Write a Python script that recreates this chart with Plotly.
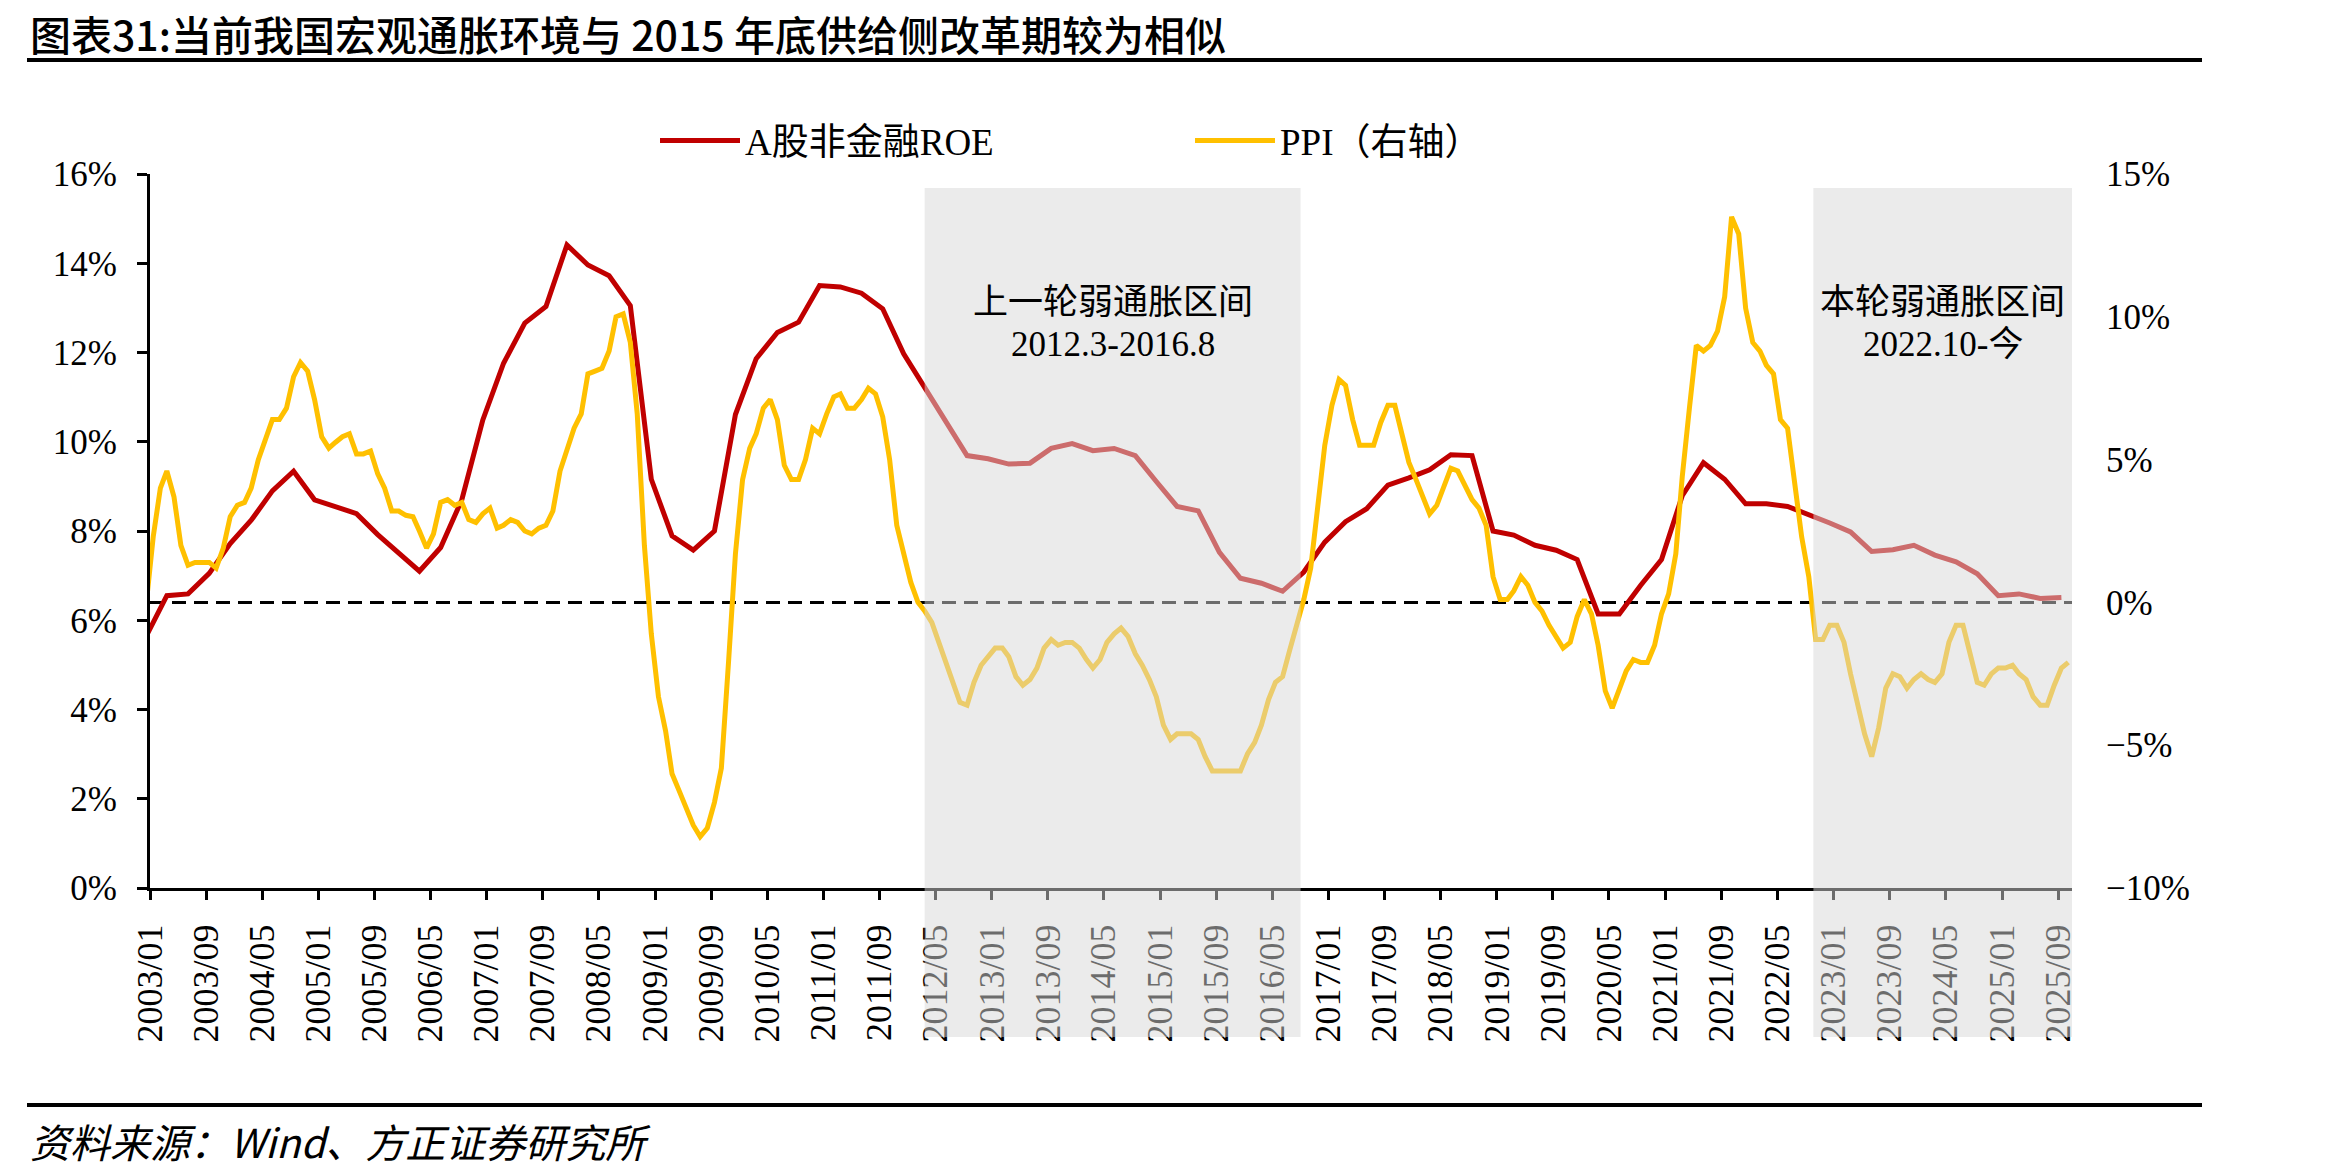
import pandas as pd
import plotly.graph_objects as go

# ---------------- data ----------------
title_text = "图表31:当前我国宏观通胀环境与 2015 年底供给侧改革期较为相似"
source_text = "资料来源：Wind、方正证券研究所"
roe_name = "A股非金融ROE"
ppi_name = "PPI（右轴）"

# PPI YoY (%), monthly from 2002-12 to 2025-10
ppi_first_month = "2002-12"
ppi_values = (
    [-0.1]
    + [2.3, 4.0, 4.6, 3.7, 2.0, 1.3, 1.4, 1.4, 1.4, 1.2, 1.9, 3.0]          # 2003
    + [3.4, 3.5, 4.0, 5.0, 5.7, 6.4, 6.4, 6.8, 7.9, 8.4, 8.1, 7.1]          # 2004
    + [5.8, 5.4, 5.6, 5.8, 5.9, 5.2, 5.2, 5.3, 4.5, 4.0, 3.2, 3.2]          # 2005
    + [3.05, 3.0, 2.5, 1.9, 2.4, 3.5, 3.6, 3.4, 3.5, 2.9, 2.8, 3.1]         # 2006
    + [3.3, 2.6, 2.7, 2.9, 2.8, 2.5, 2.4, 2.6, 2.7, 3.2, 4.6, 5.4]          # 2007
    + [6.1, 6.6, 8.0, 8.1, 8.2, 8.8, 10.0, 10.1, 9.1, 6.6, 2.0, -1.1]       # 2008
    + [-3.3, -4.5, -6.0, -6.6, -7.2, -7.8, -8.2, -7.9, -7.0, -5.8, -2.1, 1.7]  # 2009
    + [4.3, 5.4, 5.9, 6.8, 7.1, 6.4, 4.8, 4.3, 4.3, 5.0, 6.1, 5.9]          # 2010
    + [6.6, 7.2, 7.3, 6.8, 6.8, 7.1, 7.5, 7.3, 6.5, 5.0, 2.7, 1.7]          # 2011
    + [0.7, 0.0, -0.3, -0.7, -1.4, -2.1, -2.9, -3.5, -3.6, -2.8, -2.2, -1.9]  # 2012
    + [-1.6, -1.6, -1.9, -2.6, -2.9, -2.7, -2.3, -1.6, -1.3, -1.5, -1.4, -1.4]  # 2013
    + [-1.6, -2.0, -2.3, -2.0, -1.4, -1.1, -0.9, -1.2, -1.8, -2.2, -2.7, -3.3]  # 2014
    + [-4.3, -4.8, -4.6, -4.6, -4.6, -4.8, -5.4, -5.9, -5.9, -5.9, -5.9, -5.9]  # 2015
    + [-5.3, -4.9, -4.3, -3.4, -2.8, -2.6, -1.7, -0.8, 0.1, 1.2, 3.3, 5.5]  # 2016
    + [6.9, 7.8, 7.6, 6.4, 5.5, 5.5, 5.5, 6.3, 6.9, 6.9, 5.8, 4.9]          # 2017
    + [4.3, 3.7, 3.1, 3.4, 4.1, 4.7, 4.6, 4.1, 3.6, 3.3, 2.7, 0.9]          # 2018
    + [0.1, 0.1, 0.4, 0.9, 0.6, 0.0, -0.3, -0.8, -1.2, -1.6, -1.4, -0.5]    # 2019
    + [0.1, -0.4, -1.5, -3.1, -3.7, -3.0, -2.4, -2.0, -2.1, -2.1, -1.5, -0.4]  # 2020
    + [0.3, 1.7, 4.4, 6.8, 9.0, 8.8, 9.0, 9.5, 10.7, 13.5, 12.9, 10.3]      # 2021
    + [9.1, 8.8, 8.3, 8.0, 6.4, 6.1, 4.2, 2.3, 0.9, -1.3, -1.3, -0.8]       # 2022
    + [-0.8, -1.4, -2.5, -3.6, -4.6, -5.4, -4.4, -3.0, -2.5, -2.6, -3.0, -2.7]  # 2023
    + [-2.5, -2.7, -2.8, -2.5, -1.4, -0.8, -0.8, -1.8, -2.8, -2.9, -2.5, -2.3]  # 2024
    + [-2.3, -2.2, -2.5, -2.7, -3.3, -3.6, -3.6, -2.9, -2.3, -2.1]          # 2025
)

# A-share non-financial ROE (%), quarterly from 2002Q4 to 2025Q3
roe_first_month = "2002-12"
roe_values = [
    5.64,
    6.55, 6.59, 7.05, 7.72,      # 2003
    8.24, 8.90, 9.34, 8.70,      # 2004
    8.55, 8.39, 7.92, 7.50,      # 2005
    7.10, 7.63, 8.70, 10.49,     # 2006
    11.76, 12.66, 13.03, 14.41,  # 2007
    13.96, 13.72, 13.05, 9.16,   # 2008
    7.89, 7.57, 8.00, 10.61,     # 2009
    11.86, 12.45, 12.68, 13.50,  # 2010
    13.47, 13.33, 12.98, 11.97,  # 2011
    11.20, 10.45, 9.69, 9.62,    # 2012
    9.50, 9.52, 9.85, 9.96,      # 2013
    9.80, 9.85, 9.69, 9.11,      # 2014
    8.55, 8.45, 7.52, 6.94,      # 2015
    6.83, 6.65, 7.08, 7.75,      # 2016
    8.21, 8.50, 9.03, 9.19,      # 2017
    9.37, 9.71, 9.69, 8.00,      # 2018
    7.91, 7.68, 7.57, 7.36,      # 2019
    6.14, 6.14, 6.78, 7.36,      # 2020
    8.79, 9.53, 9.16, 8.61,      # 2021
    8.61, 8.55, 8.37, 8.18,      # 2022
    7.98, 7.54, 7.58, 7.68,      # 2023
    7.46, 7.31, 7.04, 6.55,      # 2024
    6.59, 6.49, 6.51,            # 2025
]

x_range = ["2003-01-01", "2025-10-31"]
shade_periods = [("2012-03-15", "2016-09-01"), ("2022-10-05", "2025-10-31")]
shade_labels = [("上一轮弱通胀区间", "2012.3-2016.8"), ("本轮弱通胀区间", "2022.10-今")]

ppi_dates = pd.date_range(ppi_first_month, periods=len(ppi_values), freq="MS") + pd.Timedelta(days=14)
roe_dates = pd.date_range(roe_first_month, periods=len(roe_values), freq="3MS") + pd.Timedelta(days=14)

# ---------------- figure ----------------
W, H = 2333, 1175
ML, MR, MT, MB = 150, 261, 174, 287
PW, PH = W - ML - MR, H - MT - MB

def py(y_px):
    return (H - MB - y_px) / PH

def px_(x_px):
    return (x_px - ML) / PW

RED = "#C00000"
YEL = "#FFC000"
serif = "Liberation Serif, Noto Sans CJK SC"

fig = go.Figure()
fig.add_trace(go.Scatter(x=roe_dates, y=roe_values, name=roe_name, mode="lines",
                         line=dict(color=RED, width=5), yaxis="y"))
fig.add_trace(go.Scatter(x=ppi_dates, y=ppi_values, name=ppi_name, mode="lines",
                         line=dict(color=YEL, width=5), yaxis="y2"))

shapes = []
# zero line of PPI
shapes.append(dict(type="line", xref="paper", yref="y2", x0=0, x1=1, y0=0, y1=0,
                   line=dict(color="black", width=3, dash="14px,8px"), layer="below"))
# shaded periods (semi-transparent overlay)
for s0, s1 in shade_periods:
    shapes.append(dict(type="rect", xref="x", yref="paper", x0=s0, x1=s1,
                       y0=py(1037), y1=py(188), line=dict(width=0),
                       fillcolor="rgba(215,215,215,0.5)", layer="above"))
# title and source rules
shapes.append(dict(type="line", xref="paper", yref="paper", x0=px_(27), x1=px_(2202),
                   y0=py(60), y1=py(60), line=dict(color="black", width=4)))
shapes.append(dict(type="line", xref="paper", yref="paper", x0=px_(27), x1=px_(2202),
                   y0=py(1105), y1=py(1105), line=dict(color="black", width=4)))

annotations = []
for (s0, s1), (l1, l2) in zip(shade_periods, shade_labels):
    mid = pd.Timestamp(s0) + (pd.Timestamp(s1) - pd.Timestamp(s0)) / 2
    annotations.append(dict(x=mid, xref="x", y=py(302), yref="paper", text=l1, showarrow=False,
                            font=dict(family=serif, size=35, color="black"), xanchor="center", yanchor="middle"))
    annotations.append(dict(x=mid, xref="x", y=py(344), yref="paper", text=l2, showarrow=False,
                            font=dict(family=serif, size=35, color="black"), xanchor="center", yanchor="middle"))
annotations.append(dict(x=px_(28), xref="paper", y=py(1141), yref="paper", text=source_text, showarrow=False,
                        font=dict(family="Noto Sans CJK SC", size=40, color="black", style="italic"),
                        xanchor="left", yanchor="middle"))
# title as annotation
annotations.append(dict(x=px_(28), xref="paper", y=py(33), yref="paper", text=title_text, showarrow=False,
                        font=dict(family="Noto Sans CJK SC", size=41, color="black", weight=500),
                        xanchor="left", yanchor="middle"))

fig.update_layout(
    width=W, height=H,
    margin=dict(l=ML, r=MR, t=MT, b=MB, pad=0),
    paper_bgcolor="white", plot_bgcolor="white",
    showlegend=True,
    legend=dict(orientation="h", x=px_(655), xanchor="left", y=py(141), yanchor="middle",
                font=dict(family=serif, size=37, color="black"),
                itemwidth=80, entrywidth=440, bgcolor="rgba(0,0,0,0)"),
    xaxis=dict(type="date", range=x_range, tick0="2003-01-01", dtick="M8", tickformat="%Y/%m",
               tickangle=-90, ticks="outside", ticklen=9, tickwidth=2.5, tickcolor="black",
               showline=True, linecolor="black", linewidth=3, showgrid=False, zeroline=False,
               ticklabelstandoff=10,
               tickfont=dict(family="Liberation Serif", size=36, color="black")),
    yaxis=dict(range=[0, 16], dtick=2, ticksuffix="%", ticks="outside", ticklen=10, tickwidth=2.5,
               tickcolor="black", showline=True, linecolor="black", linewidth=3, showgrid=False,
               zeroline=False, ticklabelstandoff=13,
               tickfont=dict(family="Liberation Serif", size=35, color="black")),
    yaxis2=dict(range=[-10, 15], dtick=5, ticksuffix="%", overlaying="y", side="right",
                showline=False, ticks="", showgrid=False, zeroline=False, ticklabelstandoff=33,
                tickfont=dict(family="Liberation Serif", size=35, color="black")),
    shapes=shapes,
    annotations=annotations,
)

fig.write_html("out.html")
